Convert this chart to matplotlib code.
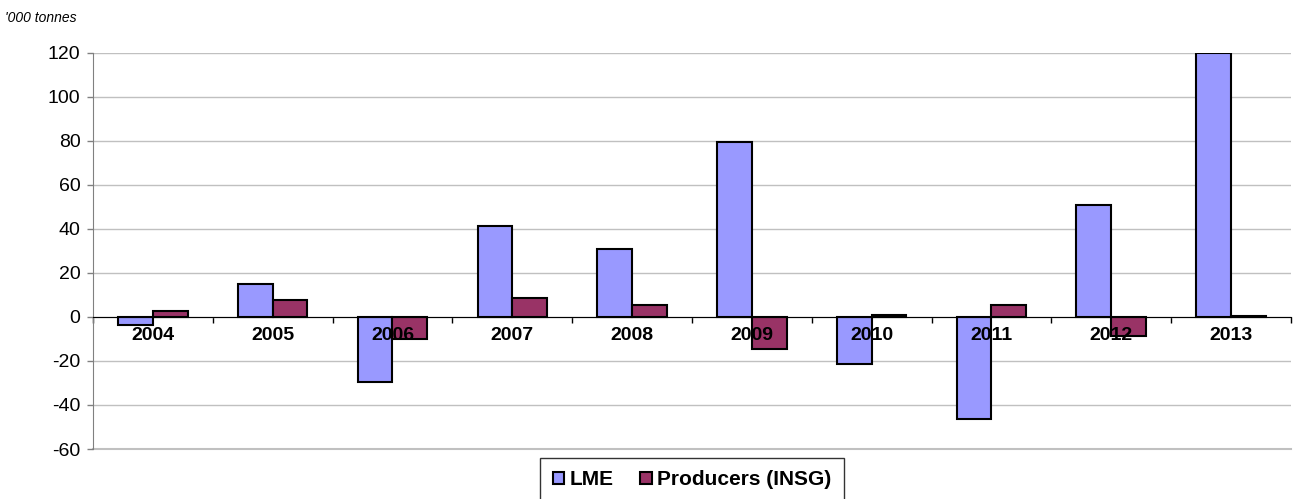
import numpy as np
import matplotlib.pyplot as plt

plt.rcParams['font.family'] = ['Liberation Sans', 'DejaVu Sans']
plt.rcParams['axes.unicode_minus'] = False

years = ['2004', '2005', '2006', '2007', '2008', '2009', '2010', '2011', '2012', '2013']
lme = [-3.5, 15, -29.5, 41.5, 31, 79.5, -21.5, -46.5, 51, 120]
producers = [2.5, 7.5, -10, 8.5, 5.5, -14.5, 1, 5.5, -8.5, 0.3]

fig = plt.figure(figsize=(12.93, 4.99), dpi=100)
ax = fig.add_axes([0.0719, 0.1002, 0.9265, 0.7936])

x = np.arange(len(years))
w = 0.29
ax.bar(x - w / 2, lme, w, color='#9999FF', edgecolor='black', linewidth=1.5, label='LME', zorder=3)
ax.bar(x + w / 2, producers, w, color='#993366', edgecolor='black', linewidth=1.5,
       label='Producers (INSG)', zorder=3)

ax.set_xlim(-0.5, len(years) - 0.5)
ax.set_ylim(-60, 120)
ax.set_yticks(np.arange(-60, 121, 20))
ax.yaxis.grid(True, color='#C0C0C0', linewidth=1, zorder=0)
ax.axhline(-60, color='#C0C0C0', linewidth=1.5, clip_on=False, zorder=0)
ax.tick_params(axis='y', labelsize=14, length=4.5, color='#808080', width=1, pad=4.5)

# category axis on the zero line
ax.spines['bottom'].set_position(('data', 0))
ax.spines['bottom'].set_zorder(4)
ax.spines['top'].set_visible(False)
ax.spines['right'].set_visible(False)
ax.spines['left'].set_color('#808080')
ax.set_xticks(np.arange(-0.5, len(years), 1))
ax.set_xticklabels([])
ax.tick_params(axis='x', length=4, width=1, color='black')
for i, yr in enumerate(years):
    ax.text(i, -8.2, yr, ha='center', va='center', fontsize=14, fontweight='bold', zorder=5)

fig.text(0.004, 0.963, "'000 tonnes", fontsize=10, style='italic', ha='left', va='center')

leg = ax.legend(loc='upper center', bbox_to_anchor=(0.5, -0.022), ncol=2, frameon=True,
                fancybox=False, edgecolor='black', prop={'size': 15, 'weight': 'bold'},
                handlelength=0.55, handleheight=0.55, handletextpad=0.25, columnspacing=1.3,
                borderpad=0.6, borderaxespad=0)
leg.get_frame().set_linewidth(1)

fig.savefig('out.png', dpi=100)
